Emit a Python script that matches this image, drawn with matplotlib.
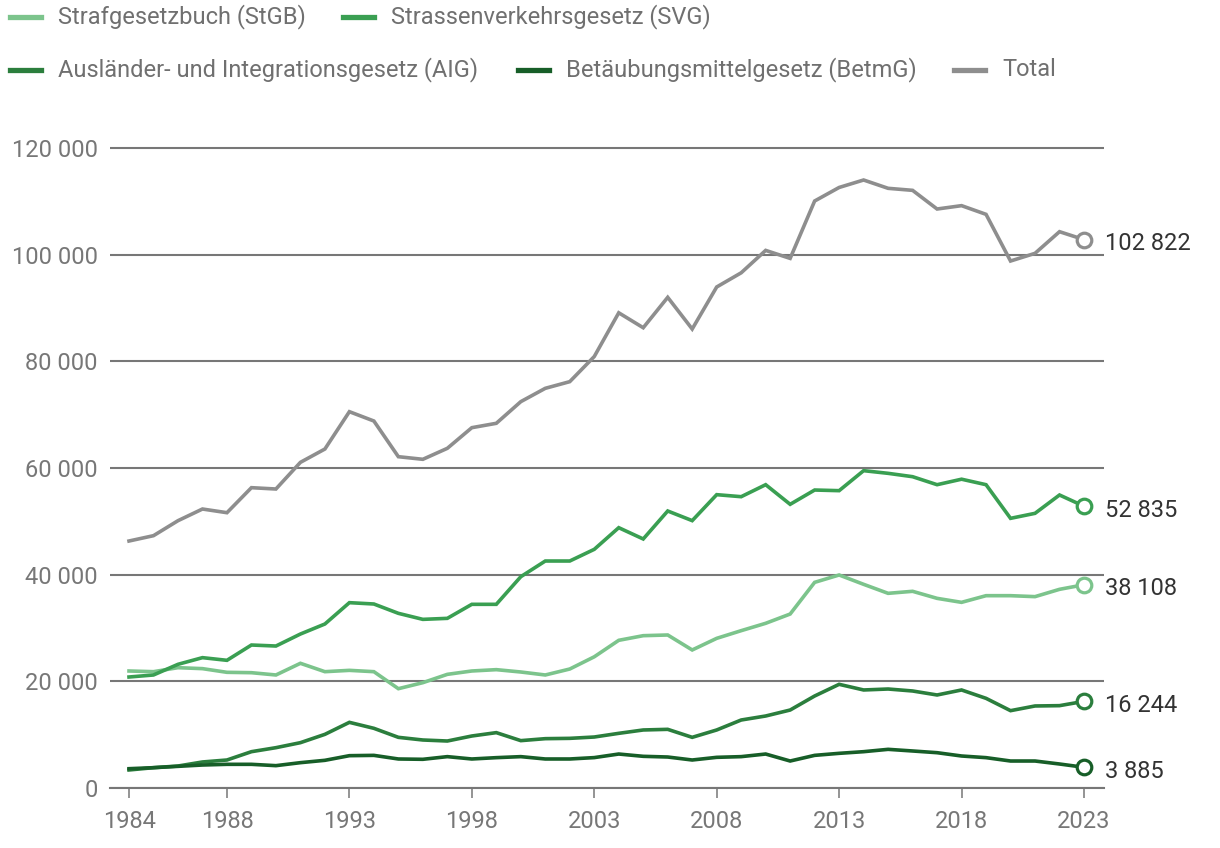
import matplotlib
matplotlib.use("Agg")
import matplotlib.pyplot as plt
from matplotlib.lines import Line2D
from matplotlib.ticker import FuncFormatter

plt.rcParams['font.family'] = ['Roboto', 'DejaVu Sans']

years = list(range(1984, 2024))

stgb = [21940, 21810, 22560, 22380, 21690, 21620, 21190, 23380, 21810, 22060,
        21810, 18620, 19750, 21310, 21940, 22190, 21750, 21190, 22310, 24600,
        27690, 28560, 28690, 25880, 28060, 29500, 30880, 32620, 38560, 39940,
        38190, 36500, 36880, 35560, 34810, 36060, 36060, 35880, 37250, 38108]

svg = [20810, 21190, 23190, 24440, 23940, 26810, 26620, 28870, 30750, 34750,
       34500, 32750, 31620, 31810, 34440, 34440, 39620, 42560, 42560, 44750,
       48810, 46690, 51940, 50130, 55000, 54620, 56870, 53190, 55870, 55750,
       59500, 59000, 58370, 56870, 57900, 56870, 50560, 51500, 54940, 52835]

aig = [3380, 3810, 4120, 4880, 5250, 6810, 7560, 8500, 10060, 12310,
       11190, 9500, 9000, 8810, 9750, 10380, 8880, 9250, 9310, 9560,
       10250, 10880, 11000, 9500, 10880, 12750, 13500, 14620, 17250, 19440,
       18380, 18560, 18190, 17440, 18380, 16810, 14500, 15380, 15440, 16244]

betmg = [3620, 3810, 4060, 4310, 4440, 4440, 4190, 4750, 5190, 6060,
         6120, 5440, 5380, 5880, 5440, 5690, 5880, 5440, 5440, 5700,
         6370, 5940, 5810, 5250, 5750, 5880, 6370, 5060, 6120, 6500,
         6810, 7250, 6940, 6620, 6000, 5690, 5060, 5060, 4500, 3885]

total = [46310, 47310, 50120, 52310, 51620, 56310, 56060, 61060, 63560, 70560,
         68810, 62120, 61630, 63690, 67560, 68380, 72440, 74940, 76190, 80900,
         89100, 86300, 92000, 86060, 93940, 96600, 100800, 99300, 110060, 112600,
         114000, 112440, 112060, 108560, 109190, 107560, 98810, 100250, 104310, 102822]

names = ["Strafgesetzbuch (StGB)", "Strassenverkehrsgesetz (SVG)",
         "Ausländer- und Integrationsgesetz (AIG)", "Betäubungsmittelgesetz (BetmG)", "Total"]
series = [stgb, svg, aig, betmg, total]
colors = ["#7cc48c", "#3a9f52", "#2b7e3d", "#175e28", "#8e8e8e"]

xticks = [1984, 1988, 1993, 1998, 2003, 2008, 2013, 2018, 2023]
yticks = [0, 20000, 40000, 60000, 80000, 100000, 120000]

W, H = 1220, 848
fig = plt.figure(figsize=(W / 100, H / 100), dpi=100)

# axes placed in pixel terms: x 110..1104, y 140..788
ax = fig.add_axes([110 / W, (H - 788) / H, (1104 - 110) / W, (788 - 140) / H])
px_year = (1084 - 129) / 39
ax.set_xlim(1984 - 19 / px_year, 1984 + (1104 - 129) / px_year)
ax.set_ylim(0, 120000 * (788 - 140) / (788 - 148))

for s, c in zip(series, colors):
    ax.plot(years, s, color=c, lw=2.6, solid_joinstyle='miter', zorder=3)
    ax.plot(years[-1], s[-1], 'o', ms=10.5, mfc='white', mec=c, mew=2.3, zorder=4)
    ax.annotate(f"{s[-1]:,}".replace(",", " "), (years[-1], s[-1]),
                xytext=(21, -4), textcoords='offset pixels', va='center', ha='left',
                fontsize=17, color='#333333', annotation_clip=False)

ax.set_xticks(xticks)
ax.set_yticks(yticks)
ax.yaxis.set_major_formatter(FuncFormatter(lambda v, p: f"{int(v):,}".replace(",", " ")))
ax.grid(axis='y', color='#777777', lw=1.5, zorder=1)
ax.set_axisbelow(True)
for side in ['top', 'right', 'left']:
    ax.spines[side].set_visible(False)
ax.spines['bottom'].set_color('#777777')
ax.spines['bottom'].set_linewidth(1.5)
ax.tick_params(axis='y', length=0, pad=9, labelsize=17, labelcolor='#777777')
ax.tick_params(axis='x', length=7.5, width=1.1, color='#777777', pad=8,
               labelsize=17, labelcolor='#777777')

# legend, two rows laid out like the original
legend_pos = [(10, 17), (343, 17), (10, 70), (518, 70), (954, 70)]
for (x0, y0), name, c in zip(legend_pos, names, colors):
    fig.add_artist(Line2D([x0 / W, (x0 + 31) / W], [1 - y0 / H, 1 - y0 / H],
                          color=c, lw=3.8, transform=fig.transFigure))
    fig.text((x0 + 48) / W, 1 - y0 / H, name, fontsize=17, color='#707070',
             va='center', ha='left')

fig.savefig("out.png", dpi=100)
